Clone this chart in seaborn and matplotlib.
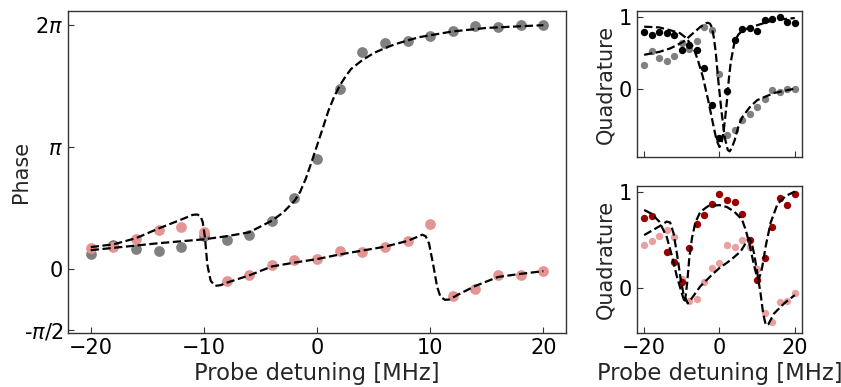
import numpy as np
import matplotlib
matplotlib.use("Agg")
import matplotlib.pyplot as plt
import seaborn as sns

sns.set_style("ticks")
plt.rcParams.update({
    "font.family": ["DejaVu Sans"],
    "font.size": 15,
    "axes.edgecolor": "0.2",
    "axes.linewidth": 1.0,
    "xtick.direction": "in",
    "ytick.direction": "in",
    "xtick.color": "0.2",
    "ytick.color": "0.2",
    "xtick.labelcolor": "black",
    "ytick.labelcolor": "black",
    "xtick.major.size": 4,
    "ytick.major.size": 4,
})

# probe detuning of the measured points [MHz]
detuning = [-20, -18, -16, -14, -12, -10, -8, -6, -4, -2, 0,
            2, 4, 6, 8, 10, 12, 14, 16, 18, 20]

# phase data (rad)
phase_grey = [0.38, 0.62, 0.50, 0.46, 0.55, 0.85, 0.74, 0.88, 1.24, 1.82, 2.84,
              4.63, 5.59, 5.81, 5.88, 5.99, 6.14, 6.26, 6.24, 6.28, 6.28]
phase_pink = [0.54, 0.57, 0.77, 0.99, 1.07, 0.96, -0.32, -0.17, 0.09, 0.22, 0.26,
              0.45, 0.43, 0.57, 0.71, 1.15, -0.71, -0.52, -0.16, -0.16, -0.05]

# phase fits
fit_grey_x = [-20, -17, -14, -10, -8, -6, -4, -3, -2, -1.5, -1, -0.5, 0, 0.5,
              1, 1.5, 2, 2.5, 3, 4, 5, 6, 7, 9, 12, 15, 20]
fit_grey_y = [0.48, 0.57, 0.66, 0.76, 0.84, 0.94, 1.24, 1.45, 1.75, 1.98, 2.32,
              2.74, 3.18, 3.62, 4.07, 4.43, 4.72, 4.95, 5.15, 5.38, 5.56, 5.69,
              5.80, 5.97, 6.12, 6.21, 6.28]
fit_pink_x = [-20, -18, -16, -14, -12, -11, -10.6, -10.3, -10.1, -9.9, -9.7,
              -9.4, -9.0, -8.5, -8, -6, -4, -2, 0, 2, 4, 6, 8, 9, 9.3, 9.6,
              9.9, 10.1, 10.3, 10.6, 10.9, 11.3, 11.7, 12.5, 14, 16, 18, 20]
fit_pink_y = [0.56, 0.63, 0.79, 1.04, 1.27, 1.39, 1.40, 1.36, 1.20, 0.79, 0.11,
              -0.31, -0.44, -0.42, -0.36, -0.17, 0.06, 0.16, 0.25, 0.37, 0.47,
              0.57, 0.72, 0.84, 0.88, 0.84, 0.65, 0.35, 0.05, -0.45, -0.72,
              -0.80, -0.79, -0.66, -0.44, -0.21, -0.13, -0.06]

# quadratures, upper panel
quad_black = [0.80, 0.75, 0.79, 0.78, 0.76, 0.54, 0.62, 0.54, 0.30, -0.22, -0.67,
              -0.02, 0.69, 0.84, 0.85, 0.81, 0.96, 0.97, 1.00, 0.94, 0.92]
quad_grey = [0.34, 0.53, 0.44, 0.39, 0.47, 0.64, 0.56, 0.67, 0.86, 0.83, 0.21,
             -0.63, -0.57, -0.42, -0.34, -0.25, -0.13, -0.01, -0.04, 0.01, 0.01]
fit_black_x = [-20, -16, -13, -10.5, -9, -7, -5.7, -4.4, -3, -1.7, -0.8, 0,
               0.5, 1, 1.5, 2, 2.5, 3, 4, 5, 6, 8, 10, 13, 16, 20]
fit_black_y = [0.87, 0.86, 0.82, 0.78, 0.72, 0.59, 0.40, 0.17, -0.15, -0.48,
               -0.70, -0.80, -0.75, -0.62, -0.40, -0.15, 0.15, 0.38, 0.66, 0.76,
               0.81, 0.86, 0.89, 0.94, 0.97, 0.99]
fit_greyq_x = [-20, -16, -13, -9.6, -7, -5, -3.5, -3, -2.5, -2, -1.5, -1, -0.4,
               0.5, 1.4, 2.2, 2.7, 3.2, 4, 5, 6, 8, 10, 14.5, 20]
fit_greyq_y = [0.48, 0.52, 0.57, 0.66, 0.78, 0.87, 0.92, 0.925, 0.91, 0.86,
               0.72, 0.52, 0.17, -0.29, -0.67, -0.84, -0.86, -0.82, -0.71,
               -0.52, -0.39, -0.25, -0.15, -0.05, 0.01]

# quadratures, lower panel (dark red point at -16 not visible)
quad_dark = [0.73, 0.75, np.nan, 0.38, 0.27, 0.07, 0.42, 0.66, 0.76, 0.87, 0.98,
             0.91, 0.89, 0.77, 0.50, 0.09, 0.31, 0.63, 0.93, 0.86, 0.98]
quad_light = [0.45, 0.49, 0.54, 0.60, 0.53, 0.10, -0.13, -0.11, 0.07, 0.21, 0.26,
              0.45, 0.43, 0.50, 0.43, 0.20, -0.26, -0.35, -0.14, -0.13, -0.05]
fit_dark_x = [-20, -18, -16, -14, -12.6, -11.3, -10, -9.2, -8.6, -8, -7.3, -6.4,
              -5.1, -3, 0, 2, 4, 6, 7, 8, 9, 10, 10.4, 11, 11.4, 12.3, 13.6,
              15.4, 17.6, 20]
fit_dark_y = [0.81, 0.77, 0.69, 0.53, 0.33, 0.12, -0.05, -0.15, 0.05, 0.32,
              0.52, 0.68, 0.79, 0.85, 0.86, 0.84, 0.79, 0.71, 0.60, 0.45, 0.27,
              0.11, 0.09, 0.16, 0.23, 0.44, 0.68, 0.87, 0.955, 1.0]
fit_light_x = [-20, -16, -14, -13.1, -12.2, -11.3, -10.4, -9.5, -8.4, -7.3,
               -5.1, -2, 0, 2.9, 5.6, 7.8, 8.5, 9.2, 10, 10.9, 11.6, 12.3, 13,
               14.5, 17.2, 20]
fit_light_y = [0.55, 0.64, 0.69, 0.68, 0.57, 0.36, 0.12, -0.07, -0.155, -0.10,
               0.02, 0.14, 0.21, 0.29, 0.38, 0.52, 0.47, 0.36, 0.17, -0.05,
               -0.26, -0.38, -0.37, -0.26, -0.155, -0.07]

c_grey = "#808080"
c_pink = "#e59494"
c_dark = "#9b0000"
c_light = "#eaa0a0"

fig = plt.figure(figsize=(8.41, 3.87), dpi=100)
ax = fig.add_axes([0.081, 0.14, 0.592, 0.832])
ax_q1 = fig.add_axes([0.757, 0.594, 0.197, 0.378])
ax_q2 = fig.add_axes([0.757, 0.14, 0.197, 0.38])

# phase panel
sns.scatterplot(x=detuning, y=phase_grey, color=c_grey, s=60, linewidth=0, ax=ax, zorder=2)
sns.scatterplot(x=detuning, y=phase_pink, color=c_pink, s=60, linewidth=0, ax=ax, zorder=2)
for fx, fy in [(fit_grey_x, fit_grey_y), (fit_pink_x, fit_pink_y)]:
    sns.lineplot(x=fx, y=fy, color="k", linestyle="--", lw=1.6, estimator=None,
                 sort=False, ax=ax, zorder=3)
ax.set_xlim(-22, 22)
ax.set_ylim(-1.65, 6.65)
ax.set_xticks([-20, -10, 0, 10, 20])
ax.set_yticks([-np.pi / 2, 0, np.pi, 2 * np.pi])
ax.set_yticklabels([r"-$\pi$/2", "0", r"$\pi$", r"2$\pi$"])
ax.set_xlabel("Probe detuning [MHz]", fontsize=16.3, labelpad=3)
ax.set_ylabel("Phase", fontsize=15)
ax.yaxis.set_label_coords(-0.074, 0.5)
ax.tick_params(labelsize=15)

# quadrature panels
sns.scatterplot(x=detuning, y=quad_grey, color=c_grey, s=28, linewidth=0, ax=ax_q1, zorder=2)
sns.scatterplot(x=detuning, y=quad_black, color="black", s=28, linewidth=0, ax=ax_q1, zorder=2)
for fx, fy in [(fit_black_x, fit_black_y), (fit_greyq_x, fit_greyq_y)]:
    sns.lineplot(x=fx, y=fy, color="k", linestyle="--", lw=1.6, estimator=None,
                 sort=False, ax=ax_q1, zorder=3)

sns.scatterplot(x=detuning, y=quad_light, color=c_light, s=28, linewidth=0, ax=ax_q2, zorder=2)
sns.scatterplot(x=detuning, y=quad_dark, color=c_dark, s=28, linewidth=0, ax=ax_q2, zorder=2)
for fx, fy in [(fit_dark_x, fit_dark_y), (fit_light_x, fit_light_y)]:
    sns.lineplot(x=fx, y=fy, color="k", linestyle="--", lw=1.6, estimator=None,
                 sort=False, ax=ax_q2, zorder=3)

for a in (ax_q1, ax_q2):
    a.set_xlim(-22, 22)
    a.set_xticks([-20, 0, 20])
    a.set_yticks([0, 1])
    a.set_ylabel("Quadrature", fontsize=15, labelpad=2)
    a.tick_params(labelsize=15)
ax_q1.set_ylim(-0.94, 1.09)
ax_q2.set_ylim(-0.46, 1.06)
ax_q1.tick_params(labelbottom=False)
ax_q2.set_xlabel("Probe detuning [MHz]", fontsize=16.3, labelpad=3)

fig.savefig("out.png", dpi=100)
